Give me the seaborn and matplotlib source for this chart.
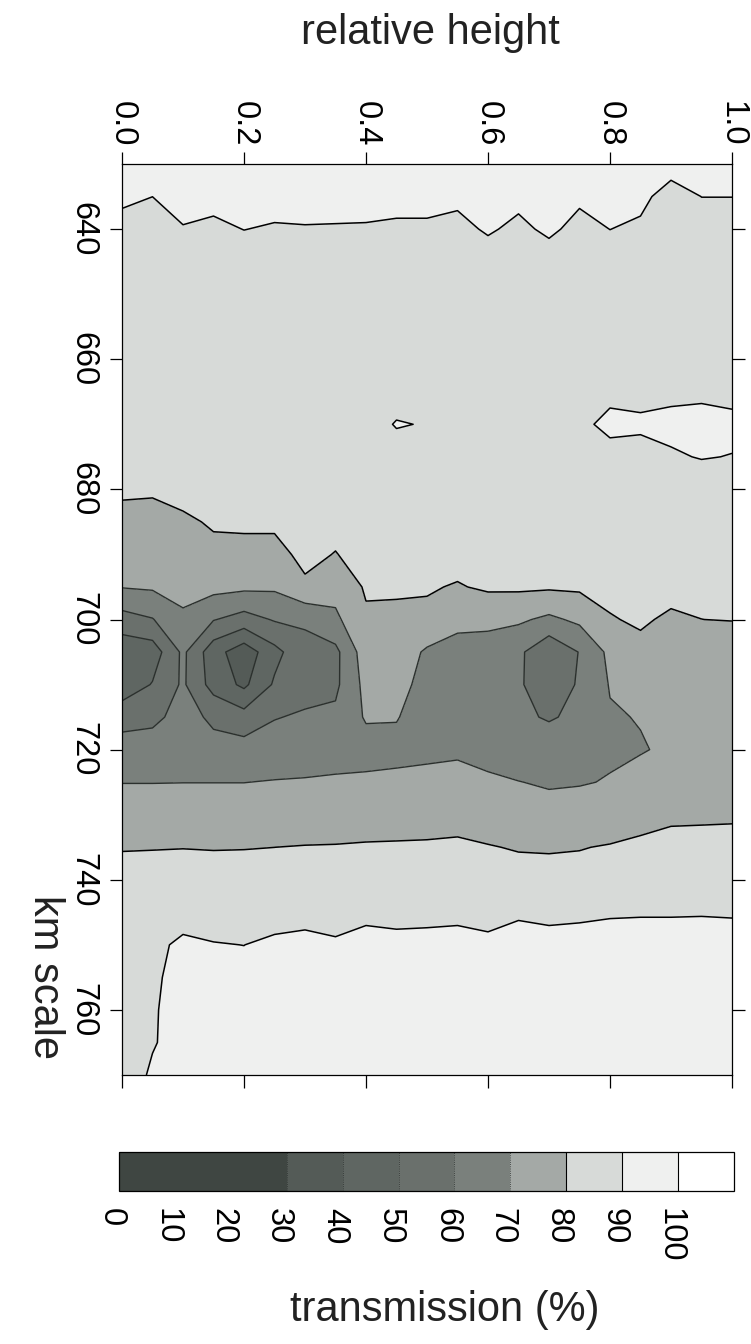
import numpy as np
import matplotlib
matplotlib.use("Agg")
import matplotlib.pyplot as plt
from matplotlib.transforms import ScaledTranslation
import seaborn as sns

# ---------------- data ----------------
relative_height = [0.0, 0.05, 0.1, 0.15, 0.2, 0.25, 0.3, 0.35, 0.4, 0.45, 0.5,
                   0.55, 0.6, 0.65, 0.7, 0.75, 0.8, 0.85, 0.9, 0.95, 1.0]
km_scale = [630, 635, 640, 645, 650, 655, 660, 665, 670, 675, 680, 685, 690, 695,
            700, 705, 710, 715, 720, 725, 730, 735, 740, 745, 750, 755, 760, 765, 770]

# transmission (%) per km row, one value per relative height column
t630 = [93.0, 93.0, 93.0, 93.0, 93.0, 93.0, 93.0, 93.0, 93.0, 93.0, 93.0, 93.0, 93.0, 93.0, 93.0, 93.0, 93.0, 93.0, 93.0, 93.0, 93.0]
t635 = [91.1, 90.02, 92.6, 91.8, 92.0, 92.4, 92.6, 92.5, 92.4, 92.0, 92.0, 91.3, 92.0, 91.6, 92.0, 91.1, 92.0, 91.8, 87.0, 90.06, 90.06]
t640 = [88.1, 87.0, 89.6, 88.8, 90.1, 89.4, 89.6, 89.5, 89.4, 89.0, 89.0, 88.3, 90.75, 88.6, 91.2, 88.1, 90.06, 88.8, 86.5, 87.1, 87.1]
t645 = [87.0, 87.0, 87.0, 87.0, 87.0, 87.0, 87.0, 87.0, 87.0, 87.0, 87.0, 87.0, 87.0, 87.0, 87.0, 87.0, 87.0, 87.0, 87.0, 87.0, 87.0]
t650 = [86.5, 86.5, 86.5, 86.5, 86.5, 86.5, 86.5, 86.5, 86.5, 86.5, 86.5, 86.5, 86.5, 86.5, 86.5, 86.5, 86.5, 86.5, 86.5, 86.5, 86.5]
t655 = [86.0, 86.0, 86.0, 86.0, 86.0, 86.0, 86.0, 86.0, 86.0, 86.0, 86.0, 86.0, 86.0, 86.0, 86.0, 86.0, 86.0, 86.0, 86.0, 86.0, 86.0]
t660 = [86.0, 86.0, 86.0, 86.0, 86.0, 86.0, 86.0, 86.0, 86.0, 86.0, 86.0, 86.0, 86.0, 86.0, 86.0, 86.0, 86.0, 86.0, 86.0, 86.0, 86.0]
t665 = [86.0, 86.0, 86.0, 86.0, 86.0, 86.0, 86.0, 86.0, 86.0, 86.0, 86.0, 86.0, 86.0, 86.0, 86.0, 86.0, 88.0, 87.3, 87.9, 88.3, 87.1]
t670 = [86.0, 86.0, 86.0, 86.0, 86.0, 86.0, 86.0, 86.0, 86.0, 90.6, 89.5, 86.0, 86.0, 86.0, 86.0, 88.2, 92.0, 91.5, 92.5, 93.0, 92.5]
t675 = [86.0, 86.0, 86.0, 86.0, 86.0, 86.0, 86.0, 86.0, 86.0, 86.0, 86.0, 86.0, 86.0, 86.0, 86.0, 86.0, 87.2, 86.8, 88.9, 90.5, 89.7]
t680 = [81.0, 81.5, 84.0, 85.0, 85.5, 85.5, 86.0, 85.5, 86.0, 86.0, 86.0, 86.5, 86.5, 86.5, 86.5, 86.5, 84.5, 84.5, 84.5, 84.3, 84.0]
t685 = [78.0, 75.8, 78.0, 81.3, 81.4, 81.4, 84.0, 82.5, 85.0, 85.0, 85.0, 85.0, 85.0, 85.0, 85.0, 85.0, 83.0, 83.0, 83.0, 83.0, 83.0]
t690 = [74.0, 73.0, 74.5, 77.0, 77.5, 77.5, 82.0, 79.7, 83.0, 83.0, 83.0, 82.5, 83.0, 83.0, 83.0, 83.0, 82.0, 82.0, 82.0, 82.0, 82.0]
t695 = [70.4, 71.2, 71.8, 73.0, 72.0, 71.5, 78.7, 73.5, 81.0, 80.8, 80.6, 79.5, 81.0, 81.5, 81.2, 81.5, 81.0, 81.5, 81.2, 81.2, 81.0]
t700 = [56.0, 59.5, 69.0, 60.5, 56.0, 60.8, 61.3, 68.0, 78.7, 78.7, 78.5, 74.0, 74.5, 71.5, 68.0, 72.0, 79.75, 80.5, 79.4, 79.98, 80.2]
t705 = [43.0, 44.7, 62.0, 44.0, 34.0, 47.0, 57.2, 57.5, 75.4, 76.0, 68.5, 64.5, 62.0, 62.0, 52.0, 60.4, 72.4, 79.0, 76.0, 76.0, 76.0]
t710 = [43.0, 50.6, 61.5, 46.0, 38.0, 51.3, 56.0, 58.0, 73.0, 74.0, 66.0, 64.0, 62.0, 61.5, 53.0, 61.3, 70.55, 74.0, 73.5, 73.5, 73.5]
t715 = [57.0, 58.0, 63.0, 58.5, 54.0, 59.5, 61.3, 62.0, 71.0, 71.0, 61.0, 64.0, 63.0, 62.0, 59.0, 62.3, 69.2, 70.4, 72.0, 72.0, 72.0]
t720 = [63.5, 64.0, 66.0, 62.5, 64.0, 65.0, 65.0, 66.0, 66.0, 64.75, 66.0, 67.2, 66.0, 65.0, 66.0, 66.0, 68.5, 69.4, 71.4, 72.0, 72.0]
t725 = [69.8, 69.8, 69.9, 69.9, 69.9, 70.4, 70.8, 71.3, 71.9, 74.0, 75.0, 76.0, 71.9, 70.2, 69.0, 69.3, 70.6, 73.2, 73.5, 74.0, 74.0]
t730 = [75.0, 75.0, 75.0, 75.0, 75.0, 75.0, 75.5, 76.0, 76.5, 77.5, 78.0, 78.5, 77.0, 75.0, 73.5, 75.0, 75.5, 77.5, 79.0, 79.2, 79.3]
t735 = [79.7, 79.8, 79.9, 79.7, 79.8, 79.99, 80.3, 80.4, 80.67, 80.6, 80.6, 80.7, 80.3, 79.6, 79.5, 79.7, 80.5, 81.4, 81.8, 81.7, 81.8]
t740 = [82.0, 82.0, 82.0, 82.7, 82.5, 82.5, 83.0, 83.0, 84.0, 84.0, 84.0, 84.5, 84.0, 82.3, 82.0, 82.5, 85.0, 85.5, 85.5, 85.5, 85.5]
t745 = [84.0, 84.0, 86.6, 87.0, 87.0, 86.6, 88.0, 87.0, 88.5, 88.0, 88.2, 88.5, 87.6, 89.0, 88.5, 88.8, 89.4, 89.5, 89.5, 89.6, 89.4]
t750 = [86.0, 88.0, 91.6, 90.3, 89.95, 91.6, 91.7, 91.0, 92.2, 91.85, 92.0, 92.2, 91.6, 93.0, 92.2, 92.5, 92.5, 92.8, 92.8, 92.8, 92.8]
t755 = [86.0, 89.0, 92.1, 92.5, 92.0, 92.5, 92.5, 92.5, 93.0, 93.0, 93.0, 93.0, 93.0, 93.0, 93.0, 93.0, 93.0, 93.0, 93.0, 93.0, 93.0]
t760 = [86.0, 89.4, 92.4, 93.0, 93.0, 93.0, 93.0, 93.0, 93.0, 93.0, 93.0, 93.0, 93.0, 93.0, 93.0, 93.0, 93.0, 93.0, 93.0, 93.0, 93.0]
t765 = [86.0, 89.5, 92.6, 93.0, 93.0, 93.0, 93.0, 93.0, 93.0, 93.0, 93.0, 93.0, 93.0, 93.0, 93.0, 93.0, 93.0, 93.0, 93.0, 93.0, 93.0]
t770 = [86.0, 91.0, 92.8, 93.0, 93.0, 93.0, 93.0, 93.0, 93.0, 93.0, 93.0, 93.0, 93.0, 93.0, 93.0, 93.0, 93.0, 93.0, 93.0, 93.0, 93.0]

band_levels = [0, 10, 20, 30, 40, 50, 60, 70, 80, 90, 100, 110]
band_colors = ["#3f4642", "#3f4642", "#3f4642", "#545b57", "#5f6662", "#6a706c",
               "#7a807c", "#a4a9a6", "#d7dad8", "#eff0ef", "#ffffff"]
x_ticks = [0.0, 0.2, 0.4, 0.6, 0.8, 1.0]
x_tick_labels = ["0.0", "0.2", "0.4", "0.6", "0.8", "1.0"]
y_ticks = [640, 660, 680, 700, 720, 740, 760]
y_tick_labels = ["640", "660", "680", "700", "720", "740", "760"]
cbar_ticks = [0, 10, 20, 30, 40, 50, 60, 70, 80, 90, 100]
cbar_tick_labels = ["0", "10", "20", "30", "40", "50", "60", "70", "80", "90", "100"]

Z = np.array([t630, t635, t640, t645, t650, t655, t660, t665, t670, t675, t680,
              t685, t690, t695, t700, t705, t710, t715, t720, t725, t730, t735,
              t740, t745, t750, t755, t760, t765, t770])

# ---------------- style ----------------
sns.set_theme(style="ticks")
plt.rcParams["font.family"] = ["Liberation Sans", "DejaVu Sans"]
plt.rcParams["axes.linewidth"] = 0.9

fig = plt.figure(figsize=(7.51, 13.44), dpi=100)
ax = fig.add_axes([122 / 751, 1 - 1075 / 1344, 610 / 751, 911 / 1344])

cf = ax.contourf(relative_height, km_scale, Z, levels=band_levels, colors=band_colors)
ax.contour(relative_height, km_scale, Z, levels=[40, 50, 60, 70],
           colors="#2b302d", linewidths=1.0)
ax.contour(relative_height, km_scale, Z, levels=[80, 90],
           colors="black", linewidths=1.1)

ax.set_xlim(0, 1)
ax.set_ylim(770, 630)
for s in ax.spines.values():
    s.set_color("black")
    s.set_linewidth(0.9)

ax.set_xticks(x_ticks)
ax.set_xticklabels(x_tick_labels, rotation=-90)
ax.set_yticks(y_ticks)
ax.set_yticklabels(y_tick_labels, rotation=-90, va="center")
ax.tick_params(axis="x", which="both", top=True, bottom=True, labeltop=True,
               labelbottom=False, direction="out", length=9, width=0.9,
               pad=3.5, labelsize=23.5, colors="black")
ax.tick_params(axis="y", which="both", left=True, right=True, labelleft=True,
               labelright=False, direction="out", length=9, width=0.9,
               pad=8, labelsize=23.5, colors="black")
for lab in ax.get_yticklabels():
    lab.set_verticalalignment("center")

ax.set_xlabel("relative height", fontsize=30, color="#222222")
ax.xaxis.set_label_position("top")
ax.xaxis.set_label_coords(0.505, 1.144)
ax.xaxis.label.set_verticalalignment("center")

ax.set_ylabel("km scale", fontsize=30, rotation=-90, color="#222222")
ax.yaxis.set_label_coords(-0.126, 0.108)
ax.yaxis.label.set_verticalalignment("center")
ax.yaxis.label.set_horizontalalignment("center")

# ---------------- colour bar ----------------
cax = fig.add_axes([119 / 751, 1 - 1191 / 1344, 615 / 751, 39 / 1344])
cbar = fig.colorbar(cf, cax=cax, orientation="horizontal", ticks=cbar_ticks)
cbar.outline.set_linewidth(0.9)
cbar.outline.set_edgecolor("black")
cax.set_xticklabels(cbar_tick_labels, rotation=-90)
cax.tick_params(length=0, labelsize=23.5, pad=12, colors="black")
shift = ScaledTranslation(-8 / 100, 0, fig.dpi_scale_trans)
for lab in cax.get_xticklabels():
    lab.set_transform(lab.get_transform() + shift)
for v in [30, 40, 50, 60, 70]:
    cax.axvline(v, color="#2d3230", lw=0.6, ls=":")
for v in [80, 90, 100]:
    cax.axvline(v, color="black", lw=0.8)
cbar.set_label("transmission (%)", fontsize=30, color="#222222")
cax.xaxis.set_label_coords(0.53, -3.05)
cax.xaxis.label.set_verticalalignment("center")

fig.savefig("out.png", dpi=100)
